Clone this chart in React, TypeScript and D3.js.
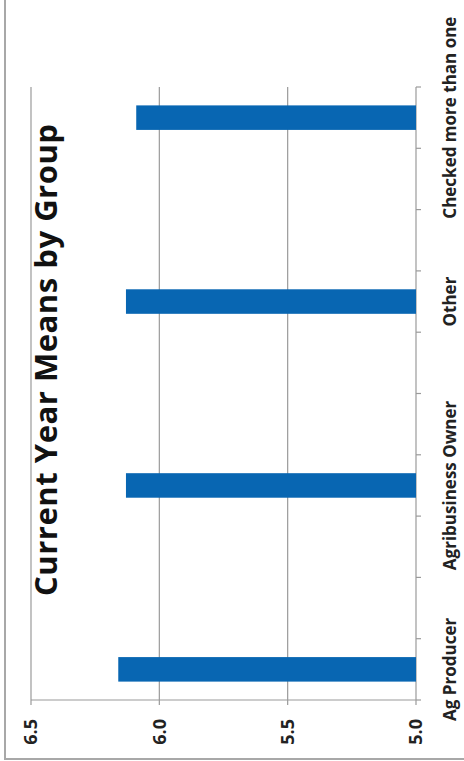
import React from "react";
import * as d3 from "d3";

const categories = [
  "Ag Producer", "", "", "Agribusiness Owner", "", "", "Other", "", "", "Checked more than one",
];
const values: (number | null)[] = [6.16, null, null, 6.13, null, null, 6.13, null, null, 6.09];
const valueTicks = [5.0, 5.5, 6.0, 6.5];
const title = "Current Year Means by Group";

const W = 464;
const H = 761;
const FONT = "'Open Sans', 'DejaVu Sans', sans-serif";

export default function App() {
  const plotTop = 87;
  const plotBottom = 700;
  const vLeft = 31;
  const vRight = 416;

  const x = d3.scaleLinear().domain([5, 6.5]).range([vRight, vLeft]);
  const y = d3
    .scaleBand<number>()
    .domain(d3.range(categories.length))
    .range([plotBottom, plotTop])
    .paddingInner(0.6)
    .paddingOuter(0.3);
  const step = y.step();
  const boundaries = d3.range(categories.length + 1).map((i) => plotBottom - i * step);

  const gridColor = "#9a9a9a";
  const barColor = "#0866b2";

  return (
    <svg
      width={W}
      height={H}
      style={{ position: "absolute", left: 0, top: 0, background: "#fff" }}
      fontFamily={FONT}
    >
      <rect x={5} y={-10} width={470} height={769} fill="#fff" stroke="#a8a8a8" strokeWidth={2} />
      {valueTicks.map((t) => (
        <line key={"g" + t} x1={x(t)} x2={x(t)} y1={plotTop} y2={plotBottom} stroke={gridColor} strokeWidth={1.2} />
      ))}
      <line x1={vLeft} x2={vRight} y1={plotBottom} y2={plotBottom} stroke={gridColor} strokeWidth={1.2} />
      {valueTicks.map((t) => (
        <line key={"vt" + t} x1={x(t)} x2={x(t)} y1={plotBottom} y2={plotBottom + 5} stroke={gridColor} strokeWidth={1.2} />
      ))}
      {boundaries.map((b, i) => (
        <line key={"ct" + i} x1={vRight} x2={vRight + 5} y1={b} y2={b} stroke={gridColor} strokeWidth={1.2} />
      ))}
      {values.map((v, i) =>
        v == null ? null : (
          <rect
            key={"b" + i}
            x={x(v)}
            y={y(i)!}
            width={x(5) - x(v)}
            height={y.bandwidth()}
            fill={barColor}
          />
        )
      )}
      {valueTicks.map((t) => (
        <text
          key={"vl" + t}
          transform={`translate(${x(t)},${719}) rotate(-90)`}
          textAnchor="end"
          dy="0.36em"
          fontSize={18}
          fontWeight="bold"
          fill="#222"
        >
          {d3.format(".1f")(t)}
        </text>
      ))}
      {categories.map((c, i) =>
        c ? (
          <text
            key={"cl" + i}
            transform={`translate(456,${y(i)! + y.bandwidth() / 2}) rotate(-90)`}
            textAnchor="middle"
            fontSize={17}
            fontWeight="bold"
            fill="#222"
          >
            {c}
          </text>
        ) : null
      )}
      <text
        transform={`translate(57,360) rotate(-90)`}
        textAnchor="middle"
        fontSize={31}
        fontWeight="bold"
        fill="#111"
        textLength={472}
        lengthAdjust="spacing"
      >
        {title}
      </text>
    </svg>
  );
}
